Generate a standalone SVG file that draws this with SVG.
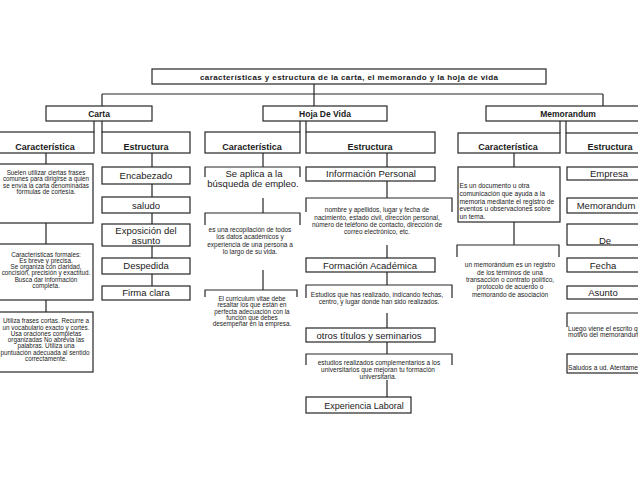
<svg xmlns="http://www.w3.org/2000/svg" width="638" height="493" viewBox="0 0 638 493">
<style>
.bx{fill:#fff;stroke:#262626;stroke-width:1.2}
.ln{fill:none;stroke:#262626;stroke-width:1.2}
text{font-family:"Liberation Sans",Arial,Helvetica,sans-serif;fill:#1a1a1a;text-anchor:middle}
.tt{font-size:8px;font-weight:bold}
.l1{font-size:8.5px;font-weight:bold}
.hd{font-size:9px;font-weight:bold}
.it{font-size:9.5px}
.ds{font-size:6.3px}
.dh{font-size:6.5px}
.dl{font-size:6.6px;text-anchor:start}
</style>
<rect width="638" height="493" fill="#fff"/>
<g id="connectors" class="ln">
<path d="M314,84V106M102,94H603M102,94V106M603,94V106"/>
<path d="M94,121V132M102,121V132M300,121V132M306,121V132M560,121V133M566,121V133"/>
<path d="M46,153V164M46,223V244M46,300V312"/>
<path d="M152,153V167M152,184V197M152,213V224M152,246V258M152,274V286"/>
<path d="M263,153V167M263,198V213M263,270V290"/>
<path d="M387,153V167M387,181V198M387,245V258M387,272V285M387,313V328M387,342V354M387,380V397"/>
<path d="M514,153V167M514,222V245"/>
</g>
<g id="title"><rect class="bx" x="152" y="69" width="394" height="15"/><text class="tt" x="349" y="79.5" textLength="298" lengthAdjust="spacing">características y estructura de la carta, el memorando y la hoja de vida</text></g>
<g id="carta"><rect class="bx" x="46" y="106" width="106" height="15"/><text class="l1" x="99" y="116.7">Carta</text></g>
<g id="hoja"><rect class="bx" x="263" y="106" width="124" height="15"/><text class="l1" x="325" y="116.7">Hoja De Vida</text></g>
<g id="memo"><rect class="bx" x="486" y="106" width="170" height="15"/><text class="l1" x="568" y="116.7">Memorandum</text></g>

<g id="carta-car"><rect class="bx" x="-3" y="132" width="97" height="21"/><text class="hd" x="45" y="150">Característica</text></g>
<g id="carta-est"><rect class="bx" x="102" y="132" width="88" height="21"/><text class="hd" x="146" y="150">Estructura</text></g>
<g id="hoja-car"><rect class="bx" x="205" y="132" width="95" height="21"/><text class="hd" x="252" y="150">Característica</text></g>
<g id="hoja-est"><rect class="bx" x="306" y="132" width="129" height="21"/><text class="hd" x="370" y="150">Estructura</text></g>
<g id="memo-car"><rect class="bx" x="458" y="133" width="102" height="20"/><text class="hd" x="508" y="150">Característica</text></g>
<g id="memo-est"><rect class="bx" x="566" y="133" width="94" height="20"/><text class="hd" x="610" y="150">Estructura</text></g>

<g id="carta-suelen"><rect class="bx" x="-3" y="164" width="96" height="59"/>
<text class="ds" x="46" y="175.2">Suelen utilizar ciertas frases</text>
<text class="ds" x="46" y="181.4">comunes para dirigirse a quien</text>
<text class="ds" x="46" y="187.6">se envía la carta denominadas</text>
<text class="ds" x="46" y="193.8">fórmulas de cortesía.</text></g>
<g id="carta-formales"><rect class="bx" x="-3" y="244" width="96" height="56"/>
<text class="ds" x="46" y="256.7">Características formales:</text>
<text class="ds" x="46" y="262.9">Es breve y precisa.</text>
<text class="ds" x="46" y="269.1">Se organiza con claridad,</text>
<text class="ds" x="46" y="275.3">concisión, precisión y exactitud.</text>
<text class="ds" x="46" y="281.5">Busca dar información</text>
<text class="ds" x="46" y="287.7">completa.</text></g>
<g id="carta-utiliza"><rect class="bx" x="-3" y="312" width="96" height="60"/>
<text class="ds" x="46" y="323.2">Utiliza frases cortas. Recurre a</text>
<text class="ds" x="46" y="329.5">un vocabulario exacto y cortés.</text>
<text class="ds" x="46" y="335.8">Usa oraciones completas</text>
<text class="ds" x="46" y="342.1">organizadas No abrevia las</text>
<text class="ds" x="46" y="348.4">palabras. Utiliza una</text>
<text class="ds" x="45" y="354.7">puntuación adecuada al sentido</text>
<text class="ds" x="46" y="361">correctamente.</text></g>

<g id="carta-encabezado"><rect class="bx" x="102" y="167" width="88" height="17"/><text class="it" x="146" y="179">Encabezado</text></g>
<g id="carta-saludo"><rect class="bx" x="102" y="197" width="88" height="16"/><text class="it" x="146" y="208.5">saludo</text></g>
<g id="carta-exposicion"><rect class="bx" x="102" y="224" width="88" height="22"/><text class="it" x="146" y="233.5">Exposición del</text><text class="it" x="146" y="243.5">asunto</text></g>
<g id="carta-despedida"><rect class="bx" x="102" y="258" width="88" height="16"/><text class="it" x="146" y="269.4">Despedida</text></g>
<g id="carta-firma"><rect class="bx" x="102" y="286" width="88" height="14"/><text class="it" x="146" y="296.4">Firma clara</text></g>

<g id="hoja-aplica"><path class="ln" d="M205,177V167H300V177"/><text class="it" x="254" y="176.5">Se aplica a la</text><text class="it" x="253" y="186.5">búsqueda de empleo.</text></g>
<g id="hoja-recopilacion"><path class="ln" d="M205,225V213H300V225"/>
<text class="dh" x="250" y="231.5">es una recopilación de todos</text>
<text class="dh" x="250" y="239">los datos académicos y</text>
<text class="dh" x="250" y="246.5">experiencia de una persona a</text>
<text class="dh" x="250" y="254">lo largo de su vida.</text></g>
<g id="hoja-curriculum"><path class="ln" d="M205,297V290H297V297"/>
<text class="ds" x="252" y="301.2">El curriculum vitae debe</text>
<text class="ds" x="252" y="307.4">resaltar los que están en</text>
<text class="ds" x="252" y="313.6">perfecta adecuación con la</text>
<text class="ds" x="252" y="319.8">función que debes</text>
<text class="ds" x="252" y="326">desempeñar en la empresa.</text></g>

<g id="hoja-info"><rect class="bx" x="306" y="167" width="129" height="14"/><text class="it" x="371" y="177.3">Información Personal</text></g>
<g id="hoja-nombre"><path class="ln" d="M306,212V198H452V212"/>
<text class="dh" x="377" y="212.2">nombre y apellidos, lugar y fecha de</text>
<text class="dh" x="377" y="219.5">nacimiento, estado civil, dirección personal,</text>
<text class="dh" x="377" y="226.8">número de teléfono de contacto, dirección de</text>
<text class="dh" x="377" y="234.1">correo electrónico, etc.</text></g>
<g id="hoja-formacion"><rect class="bx" x="306" y="258" width="129" height="14"/><text class="it" x="370" y="268.6">Formación Académica</text></g>
<g id="hoja-estudios"><path class="ln" d="M306,298V285H452V298"/>
<text class="dh" x="377" y="297.4">Estudios que has realizado, indicando fechas,</text>
<text class="dh" x="379" y="304.4">centro, y lugar donde han sido realizados.</text></g>
<g id="hoja-otros"><rect class="bx" x="306" y="328" width="129" height="14"/><text class="it" x="369" y="338.5">otros títulos y seminarios</text></g>
<g id="hoja-complementarios"><path class="ln" d="M306,365V354H452V365"/>
<text class="dh" x="379" y="364.7">estudios realizados complementarios a los</text>
<text class="dh" x="378" y="371.7">universitarios que mejoran tu formación</text>
<text class="dh" x="378" y="378.7">universitaria.</text></g>
<g id="hoja-experiencia"><rect class="bx" x="306" y="397" width="105" height="16"/><text class="it" x="364" y="408.5" style="font-size:9px">Experiencia Laboral</text></g>

<g id="memo-documento"><rect class="bx" x="458" y="167" width="102" height="55"/>
<text class="dl" x="459.5" y="188.3">Es un documento u otra</text>
<text class="dl" x="459.5" y="196">comunicación que ayuda a la</text>
<text class="dl" x="459.5" y="203.7">memoria mediante el registro de</text>
<text class="dl" x="459.5" y="211.2">eventos u observaciones sobre</text>
<text class="dl" x="459.5" y="218.5">un tema.</text></g>
<g id="memo-registro"><path class="ln" d="M457,257V245H559V257"/>
<text class="dh" x="510" y="267.2">un memorándum es un registro</text>
<text class="dh" x="510" y="274.6">de los términos de una</text>
<text class="dh" x="510" y="282">transacción o contrato político,</text>
<text class="dh" x="510" y="289.4">protocolo de acuerdo o</text>
<text class="dh" x="510" y="296.8">memorando de asociación</text></g>

<g id="memo-empresa"><rect class="bx" x="567" y="167" width="80" height="13"/><text class="it" x="609" y="177">Empresa</text></g>
<g id="memo-memorandum"><rect class="bx" x="567" y="198" width="80" height="15"/><text class="it" x="606" y="209.3">Memorandum</text></g>
<g id="memo-de"><rect class="bx" x="567" y="224" width="80" height="21"/><text class="it" x="605" y="243.5">De</text></g>
<g id="memo-fecha"><rect class="bx" x="567" y="258" width="80" height="14"/><text class="it" x="603" y="269.4">Fecha</text></g>
<g id="memo-asunto"><rect class="bx" x="567" y="286" width="80" height="13"/><text class="it" x="603" y="296.3">Asunto</text></g>
<g id="memo-luego"><path class="ln" d="M567,327V313H650"/>
<text class="dl" x="568" y="330.5">Luego viene el escrito que</text>
<text class="dl" x="568" y="337">motivo del memorandum</text></g>
<g id="memo-saludos"><rect class="bx" x="567" y="354" width="85" height="19"/><text class="dl" x="568" y="370">Saludos a ud. Atentamente</text></g>
</svg>
